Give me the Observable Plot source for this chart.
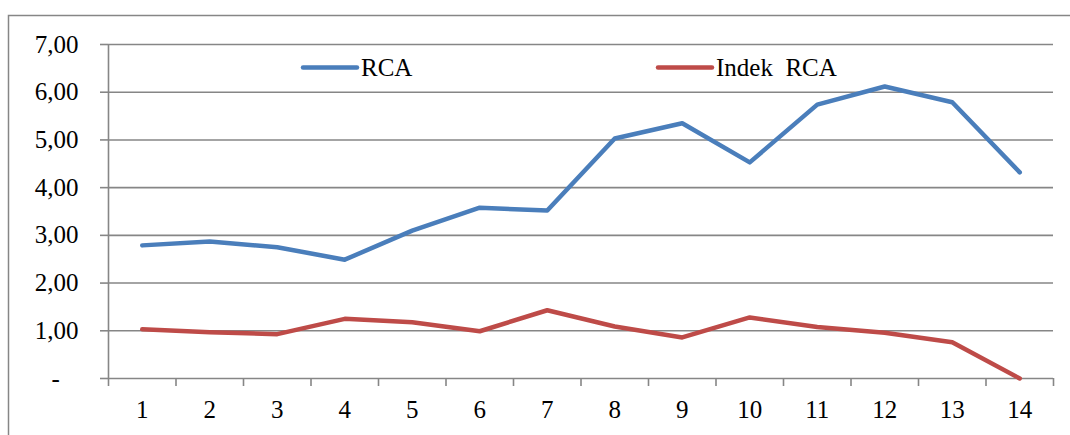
<!DOCTYPE html>
<html>
<head>
<meta charset="utf-8">
<script src="https://cdn.jsdelivr.net/npm/d3@7"></script>
<script src="https://cdn.jsdelivr.net/npm/@observablehq/plot@0.6"></script>
<style>
  html, body { margin: 0; padding: 0; background: #fff; }
  #chart { position: relative; width: 1070px; height: 435px; overflow: hidden; }
  #chart svg, #chart svg text, #chart svg g { font-family: "Liberation Serif", "Times New Roman", serif !important; }
</style>
</head>
<body>
<div id="chart"></div>
<script>
const periods = [1, 2, 3, 4, 5, 6, 7, 8, 9, 10, 11, 12, 13, 14];
const rca = [2.79, 2.87, 2.75, 2.49, 3.10, 3.58, 3.52, 5.03, 5.35, 4.53, 5.74, 6.12, 5.79, 4.32];
const indekRca = [1.03, 0.97, 0.93, 1.25, 1.18, 0.99, 1.43, 1.09, 0.86, 1.28, 1.08, 0.96, 0.76, 0.00];
const yTicks = [0, 1, 2, 3, 4, 5, 6, 7];
const seriesNames = ["RCA", "Indek  RCA"];
const seriesColors = ["#4A7EBB", "#BE4B48"];

const rows = [];
periods.forEach((p, i) => {
  rows.push({ period: p, value: rca[i], series: seriesNames[0] });
  rows.push({ period: p, value: indekRca[i], series: seriesNames[1] });
});
const boundaries = [periods[0] - 0.5, ...periods.map(p => p + 0.5)];

const fmt = d => d === 0 ? "-\u00a0\u00a0\u00a0" : d.toFixed(2).replace(".", ",");

const plot = Plot.plot({
  width: 1070,
  height: 435,
  marginLeft: 108,
  marginRight: 17,
  marginTop: 44,
  marginBottom: 57,
  style: { fontFamily: "'Liberation Serif', serif", fontSize: "25px", color: "#000", background: "#fff" },
  x: { type: "linear", domain: [boundaries[0], boundaries[boundaries.length - 1]] },
  y: { domain: [0, 7] },
  color: { domain: seriesNames, range: seriesColors },
  marks: [
    Plot.gridY(yTicks, { stroke: "#868686", strokeOpacity: 1, strokeWidth: 1.6 }),
    Plot.ruleX([boundaries[0]], { stroke: "#868686", strokeWidth: 1.6 }),
    Plot.axisY(yTicks, { tickFormat: fmt, tickSize: 8, tickPadding: 22, stroke: "#868686", strokeWidth: 1.6, fill: "#000", fontSize: 25, label: null }),
    Plot.axisX(boundaries, { tickFormat: () => "", tickSize: 8, stroke: "#868686", strokeWidth: 1.6, label: null }),
    Plot.axisX(periods, { tickFormat: d => String(d), tickSize: 0, tickPadding: 22, fill: "#000", fontSize: 25, label: null }),
    Plot.line(rows, { x: "period", y: "value", z: "series", stroke: "series", strokeWidth: 4.5, strokeLinejoin: "round", strokeLinecap: "round" })
  ]
});

document.getElementById("chart").appendChild(plot);

const svg = d3.select(plot);
// outer chart frame
svg.insert("rect", ":first-child")
  .attr("x", 8.5).attr("y", 15.5).attr("width", 1200).attr("height", 600)
  .attr("fill", "#fff").attr("stroke", "#868686").attr("stroke-width", 1.5);

// legend
const legend = svg.append("g").attr("font-size", 25).attr("text-anchor", "start");
const legendItems = [{ x: 303, name: seriesNames[0], color: seriesColors[0] }, { x: 658, name: seriesNames[1], color: seriesColors[1] }];
legendItems.forEach(it => {
  legend.append("line").attr("x1", it.x).attr("x2", it.x + 54).attr("y1", 67.5).attr("y2", 67.5)
    .attr("stroke", it.color).attr("stroke-width", 4.5).attr("stroke-linecap", "round");
  legend.append("text").attr("x", it.x + 58).attr("y", 76).attr("fill", "#000")
    .attr("text-anchor", "start").style("white-space", "pre").text(it.name);
});
</script>
</body>
</html>
